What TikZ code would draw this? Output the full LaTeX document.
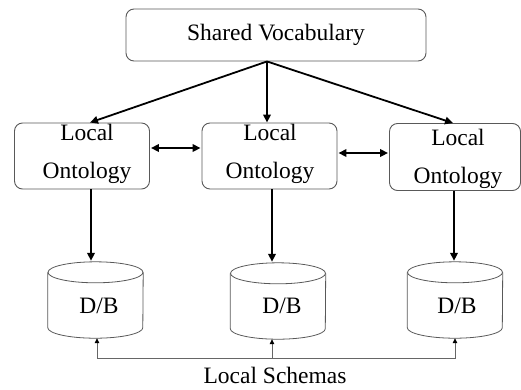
\documentclass[tikz,border=0pt]{standalone}
\usepackage{fontspec}
\setmainfont{Liberation Serif}
\usetikzlibrary{arrows.meta,calc}
\tikzset{
  bigtip/.tip={Triangle[length=8pt,width=7.5pt]},
  smalltip/.tip={Triangle[length=5pt,width=4.5pt,color=black]}
}
\begin{document}
\begin{tikzpicture}[x=1pt,y=-1pt,
  box/.style={draw=black!65, line width=0.9pt, rounded corners=8pt, inner sep=0pt},
  txt/.style={font=\fontsize{23.5}{38}\selectfont, align=center, inner sep=0pt},
  flow/.style={draw=black, line width=1.8pt, -{bigtip}},
  link/.style={draw=black, line width=1.8pt, {bigtip}-{bigtip}},
  schema/.style={draw=black!60, line width=0.8pt},
  db/.style={minimum width=95pt, minimum height=65.5pt, inner sep=0pt},
  cyl/.style={draw=black!65, line width=0.8pt}]
\useasboundingbox (0,0) rectangle (521,389);

% shared vocabulary
\node[box, txt, minimum width=300pt, minimum height=52pt] (sv) at (276,35) {Shared Vocabulary};

% local ontologies
\node[box, minimum width=135pt, minimum height=66pt] (lo1) at (82,156) {};
\node[box, minimum width=135pt, minimum height=66pt] (lo2) at (269.5,156) {};
\node[box, minimum width=131pt, minimum height=67pt] (lo3) at (455,157) {};
\node[txt] (t1) at (87,153.6) {Local\\Ontology};
\node[txt] (t2) at (270,153.6) {Local\\Ontology};
\node[txt] (t3) at (458,158.6) {Local\\Ontology};

% databases (body of each cylinder)
\node[db] (db1) at (95.5,305.25) {};
\node[db] (db2) at (278,306.25) {};
\node[db] (db3) at (455,305.25) {};
\foreach \n in {db1,db2,db3}{
  \draw[cyl] (\n.north) ellipse [x radius=47.5pt, y radius=10.5pt];
  \draw[cyl] (\n.north west) -- ($(\n.south west)+(0,-10.5)$)
    arc[start angle=180, end angle=360, x radius=47.5pt, y radius=10.5pt]
    -- (\n.north east);
}
\node[txt] (d1) at (99,306) {D/B};
\node[txt] (d2) at (282,306) {D/B};
\node[txt] (d3) at (457,306) {D/B};

% vocabulary to ontologies
\draw[flow] ($(sv.south)+(-9,0)$) -- ($(lo1.north)+(8,0)$);
\draw[flow] ($(sv.south)+(-9,0)$) -- ($(lo2.north)+(-2.5,0)$);
\draw[flow] ($(sv.south)+(-9,0)$) -- ($(lo3.north)+(-2,0)$);

% ontology to ontology
\draw[link] ($(lo1.east)+(1,-8)$) -- ($(lo2.west)+(-1,-8)$);
\draw[link] ($(lo2.east)+(1,-3)$) -- ($(lo3.west)+(-1,-4)$);

% ontologies to databases
\draw[flow] ($(lo1.south)+(9,0)$) -- ($(db1.north)+(-4.5,-11.5)$);
\draw[flow] ($(lo2.south)+(2.5,0)$) -- ($(db2.north)+(-6,-11.5)$);
\draw[flow] ($(lo3.south)+(-1,0)$) -- ($(db3.north)+(-1,-11.5)$);

% local schemas
\coordinate (bus) at (272,358);
\draw[schema, {smalltip}-{smalltip}] ($(db1.south)+(1.5,0)$) |- (bus) -| (db3.south);
\draw[schema, -{smalltip}] (bus) -- (bus |- db2.south);
\node[txt, align=none] (ls) at (275,375.5) {Local Schemas};
\end{tikzpicture}
\end{document}
